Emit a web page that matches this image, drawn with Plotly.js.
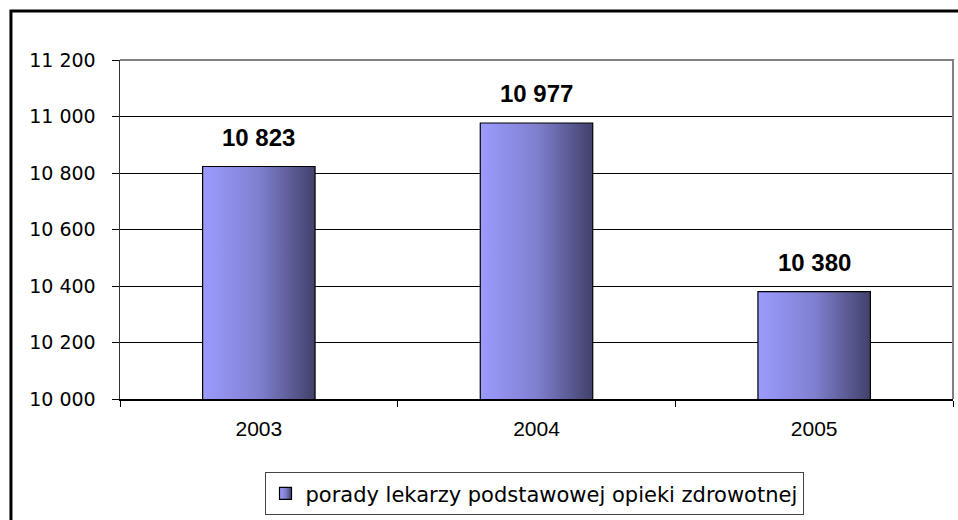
<!DOCTYPE html>
<html>
<head>
<meta charset="utf-8">
<script src="https://cdn.plot.ly/plotly-3.0.1.min.js"></script>
<style>
  body { margin: 0; background: #fff; }
  #chart { width: 958px; height: 520px; }
</style>
</head>
<body>
<div id="chart"></div>
<script>
var years = ["2003", "2004", "2005"]
var porady = [10823, 10977, 10380]
var seriesName = "porady lekarzy podstawowej opieki zdrowotnej"
var yTicks = [10000, 10200, 10400, 10600, 10800, 11000, 11200]

function spaced(v) {
    return String(v).replace(/\B(?=(\d{3})+(?!\d))/g, " ")
}

var trace = {
    type: "bar",
    x: years,
    y: porady,
    name: seriesName,
    showlegend: true,
    marker: {color: "#7777cc", line: {color: "#000", width: 1.2}},
    hoverinfo: "none"
}

// labels above bars (x as category index, "2003" would be read as a number)
var notes = years.map(function (yr, i) {
    return {
        x: i, y: porady[i], xref: "x", yref: "y",
        text: "<b>" + spaced(porady[i]) + "</b>",
        showarrow: false, yanchor: "bottom", yshift: 14,
        font: {family: "Liberation Sans, Arial", size: 24, color: "#000"}
    }
})

var layout = {
    width: 958, height: 520,
    margin: {l: 120, r: 5, t: 60, b: 121},
    paper_bgcolor: "#fff", plot_bgcolor: "#fff",
    bargap: 0.595,
    showlegend: true,
    legend: {
        orientation: "h", x: 0.497, xanchor: "center", y: -0.216, yanchor: "top",
        bordercolor: "#444", borderwidth: 1,
        font: {family: "DejaVu Sans", size: 21, color: "#000"}
    },
    xaxis: {
        type: "category",
        range: [-0.5, 2.5],
        showline: true, linecolor: "#000", linewidth: 1.5,
        ticks: "outside", tickson: "boundaries", ticklen: 6, tickcolor: "#000",
        showgrid: false,
        tickfont: {family: "Liberation Sans, Arial", size: 21, color: "#000"},
        ticklabelstandoff: 10
    },
    yaxis: {
        range: [10000, 11200],
        tickvals: yTicks,
        ticktext: yTicks.map(spaced),
        showline: true, linecolor: "#333", linewidth: 1.5,
        ticks: "outside", ticklen: 7, tickcolor: "#000",
        showgrid: true, gridcolor: "#000", gridwidth: 1,
        zeroline: false,
        tickfont: {family: "DejaVu Sans", size: 19, color: "#000"},
        ticklabelstandoff: 12
    },
    annotations: notes,
    shapes: [
        // plot area frame top and right
        {type: "path", xref: "paper", yref: "paper", layer: "above",
         path: "M 0 1 L 1 1 L 1 0", line: {color: "#808080", width: 2}},
        // outer chart border
        {type: "rect", xref: "paper", yref: "paper", layer: "above",
         x0: -0.1309, x1: 1.02, y0: -0.4, y1: 1.1445,
         line: {color: "#000", width: 3}}
    ]
}

Plotly.newPlot("chart", [trace], layout, {staticPlot: true}).then(function (gd) {
    var ns = "http://www.w3.org/2000/svg"
    var svg = gd.querySelector(".main-svg")
    var defs = svg.querySelector("defs")
    var grad = document.createElementNS(ns, "linearGradient")
    grad.setAttribute("id", "barGrad")
    grad.setAttribute("x1", "0"); grad.setAttribute("x2", "1")
    grad.setAttribute("y1", "0"); grad.setAttribute("y2", "0")
    var stops = [["0", "#9b9bff"], ["0.5", "#8080d0"], ["1", "#41416b"]]
    stops.forEach(function (s) {
        var st = document.createElementNS(ns, "stop")
        st.setAttribute("offset", s[0])
        st.setAttribute("stop-color", s[1])
        grad.appendChild(st)
    })
    defs.appendChild(grad)
    gd.querySelectorAll(".bars path, .legendpoints path").forEach(function (p) {
        p.style.fill = "url(#barGrad)"
        p.style.fillOpacity = 1
    })
})
</script>
</body>
</html>
